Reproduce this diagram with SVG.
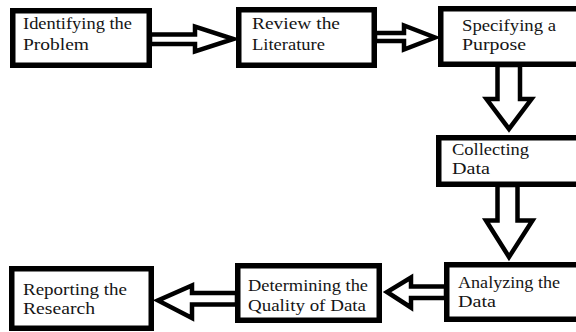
<svg xmlns="http://www.w3.org/2000/svg" width="576" height="332" viewBox="0 0 576 332">
  <style>
    .box { fill: #ffffff; stroke: #000000; stroke-width: 5.5; }
    .arrow { fill: #ffffff; stroke: #000000; stroke-width: 4.5; stroke-linejoin: miter; }
    .lbl { font-family: 'Liberation Serif', 'Times New Roman', Times, 'DejaVu Serif', serif; font-size: 16px; fill: #151515; }
  </style>
  <rect x="0" y="0" width="576" height="332" fill="#ffffff"/>
  <g id="connectors">
    <polygon class="arrow" points="150,34.5 195,34.5 195,26.5 233.5,39 195,51.5 195,44 150,44"/>
    <polygon class="arrow" points="375,33 404,33 404,25.5 435,37.5 404,49.5 404,41 375,41"/>
    <polygon class="arrow" points="497.5,65 520,65 520,99 531.5,99 509,129 486.5,99 497.5,99"/>
    <polygon class="arrow" points="497.5,185 517.5,185 517.5,220.5 532.5,220.5 509,257 486,220.5 497.5,220.5"/>
    <polygon class="arrow" points="446,286.5 411,286.5 411,277.5 387,292 411,307.5 411,298 446,298"/>
    <polygon class="arrow" points="237,293 192,293 192,285.5 158,300.5 192,318 192,304.5 237,304.5"/>
  </g>
  <g font-family="'Liberation Serif', 'Times New Roman', serif">
  <g id="identifying">
    <rect class="box" x="12.75" y="10.75" width="136.5" height="54.5"/>
    <text class="lbl" x="23" y="29" textLength="109" lengthAdjust="spacingAndGlyphs">Identifying the</text>
    <text class="lbl" x="23" y="50" textLength="66" lengthAdjust="spacingAndGlyphs">Problem</text>
  </g>
  <g id="review">
    <rect class="box" x="238.75" y="9.75" width="135.5" height="55.5"/>
    <text class="lbl" x="252" y="29" textLength="88" lengthAdjust="spacingAndGlyphs">Review the</text>
    <text class="lbl" x="252" y="50" textLength="73" lengthAdjust="spacingAndGlyphs">Literature</text>
  </g>
  <g id="specifying">
    <rect class="box" x="440.75" y="8.75" width="150" height="55.5"/>
    <text class="lbl" x="462" y="31" textLength="94" lengthAdjust="spacingAndGlyphs">Specifying a</text>
    <text class="lbl" x="462" y="50" textLength="64" lengthAdjust="spacingAndGlyphs">Purpose</text>
  </g>
  <g id="collecting">
    <rect class="box" x="438.75" y="137.75" width="150" height="46.5"/>
    <text class="lbl" x="452" y="155" textLength="77" lengthAdjust="spacingAndGlyphs">Collecting</text>
    <text class="lbl" x="452" y="174" textLength="38" lengthAdjust="spacingAndGlyphs">Data</text>
  </g>
  <g id="analyzing">
    <rect class="box" x="446.75" y="264.75" width="150" height="54.5"/>
    <text class="lbl" x="458" y="288" textLength="102" lengthAdjust="spacingAndGlyphs">Analyzing the</text>
    <text class="lbl" x="458" y="307" textLength="38" lengthAdjust="spacingAndGlyphs">Data</text>
  </g>
  <g id="determining">
    <rect class="box" x="237.75" y="265.75" width="141.5" height="54.5"/>
    <text class="lbl" x="248" y="291" textLength="120" lengthAdjust="spacingAndGlyphs">Determining the</text>
    <text class="lbl" x="248" y="311" textLength="118" lengthAdjust="spacingAndGlyphs">Quality of Data</text>
  </g>
  <g id="reporting">
    <rect class="box" x="11.75" y="268.75" width="139.5" height="59.5"/>
    <text class="lbl" x="23" y="295" textLength="104" lengthAdjust="spacingAndGlyphs">Reporting the</text>
    <text class="lbl" x="23" y="314" textLength="72" lengthAdjust="spacingAndGlyphs">Research</text>
  </g>
  </g>
</svg>
